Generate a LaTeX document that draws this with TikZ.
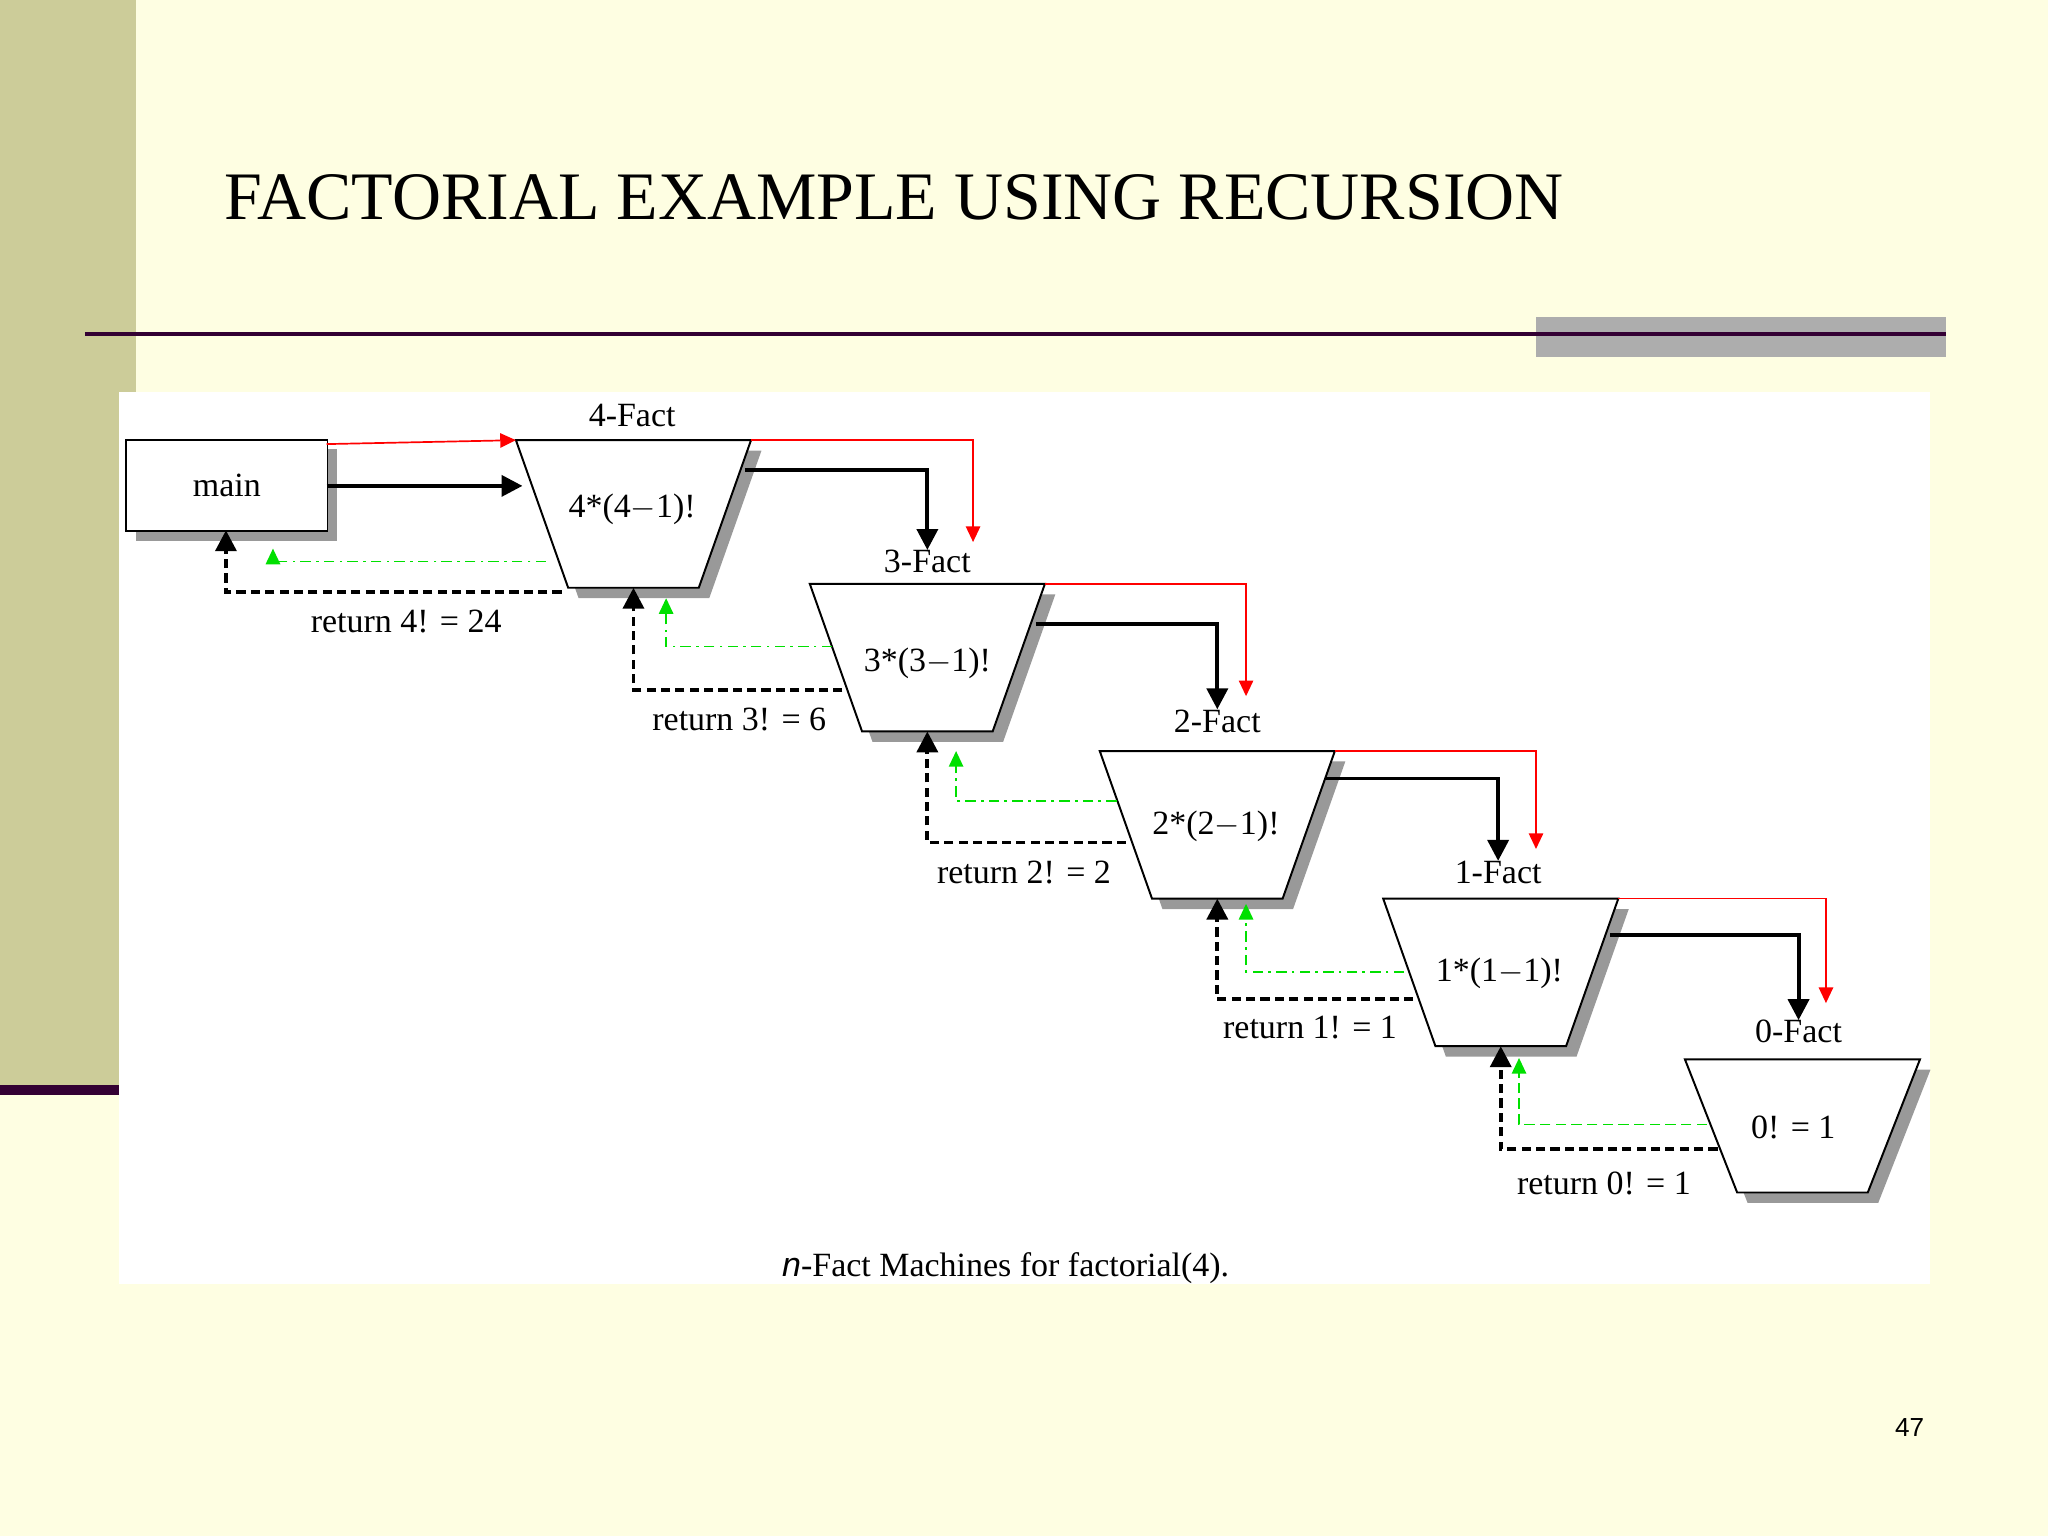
\documentclass[tikz,border=0pt]{standalone}
\usepackage{fontspec}
\setmainfont{Liberation Serif}
\newfontfamily\sans{Liberation Sans}
\usetikzlibrary{arrows.meta}
\definecolor{bgc}{HTML}{FEFEE2}
\definecolor{olive}{HTML}{CCCC99}
\definecolor{dpur}{HTML}{330033}
\definecolor{shd}{HTML}{999999}
\definecolor{gr}{HTML}{00E000}
\newcommand{\trapz}[4]{% name, x, y (top-left), height
  \fill[shd] (#2+8,#3+8) -- (#2+188,#3+8) -- (#2+148,#3+#4+8) -- (#2+48,#3+#4+8) -- cycle;
  \draw[line width=1.5pt,fill=white] (#2,#3) -- (#2+180,#3) -- (#2+140,#3+#4) -- (#2+40,#3+#4) -- cycle;
  \coordinate (#1tl) at (#2,#3);
  \coordinate (#1tr) at (#2+180,#3);
  \coordinate (#1b) at (#2+90,#3+#4);
}
\tikzset{
  lbl/.style={font=\fontsize{26}{30}\selectfont, inner sep=0pt},
  red/.style={draw=red, line width=1.3pt, -{Triangle[length=12pt,width=11pt]}},
  blk/.style={draw=black, line width=3pt, -{Triangle[length=16pt,width=16pt]}},
  ret/.style={draw=black, line width=3pt, dash pattern=on 7pt off 4pt, -{Triangle[length=16pt,width=16pt]}},
  grn/.style={draw=gr, line width=1.3pt, dash pattern=on 8pt off 4pt on 2pt off 4pt, -{Triangle[length=12pt,width=11pt]}},
}
\begin{document}
\begin{tikzpicture}[x=1pt,y=-1pt]
\useasboundingbox (0,0) rectangle (1568,1176);
\fill[bgc] (0,0) rectangle (1568,1176);
\fill[olive] (0,0) rectangle (104,832);
\fill[dpur] (0,831) rectangle (91,838);
\node[anchor=base west, inner sep=0pt, font=\fontsize{52}{56}\selectfont] (title) at (172,168) {FACTORIAL EXAMPLE USING RECURSION};
\fill[shd!80] (1176,243) rectangle (1490,273);
\draw[dpur, line width=3pt] (65,256) -- (1490,256);
\fill[white] (91,300) rectangle (1478,983);
% main
\fill[shd] (104,344) rectangle (258,414);
\node[draw, line width=1.5pt, fill=white, minimum width=154pt, minimum height=70pt, anchor=north west, inner sep=0pt, lbl] (main) at (96,336) {main};
% trapezoids
\trapz{f4}{395}{337}{113}
\trapz{f3}{620}{447}{113}
\trapz{f2}{842}{575}{113}
\trapz{f1}{1059}{688}{113}
\trapz{f0}{1290}{811}{102}
% labels
\node[lbl] (l4) at (484,318) {4-Fact};
\node[lbl] (l3) at (710,430) {3-Fact};
\node[lbl] (l2) at (932,552) {2-Fact};
\node[lbl] (l1) at (1147,668) {1-Fact};
\node[lbl] (l0) at (1377,790) {0-Fact};
\node[lbl] (t4) at (484,390) {4*(4$-$1)!};
\node[lbl] (t3) at (710,508) {3*(3$-$1)!};
\node[lbl] (t2) at (931,633) {2*(2$-$1)!};
\node[lbl] (t1) at (1148,745) {1*(1$-$1)!};
\node[lbl] (t0) at (1373,863) {0! = 1};
\node[lbl] (r4) at (311,476) {return 4! = 24};
\node[lbl] (r3) at (566,551) {return 3! = 6};
\node[lbl] (r2) at (784,668) {return 2! = 2};
\node[lbl] (r1) at (1003,787) {return 1! = 1};
\node[lbl] (r0) at (1228,906) {return 0! = 1};
% coordinates
\coordinate (m1) at (250,340); \coordinate (m2) at (250,372);
\coordinate (a4) at (400,372);
\coordinate (mb) at (173,406);
% red
\draw[red] (m1) -- (f4tl);
\draw[red] (f4tr) -| (745,415);
\draw[red] (f3tr) -| (954,533);
\draw[red] (f2tr) -| (1176,650);
\draw[red] (f1tr) -| (1398,768);
% black
\draw[blk] (m2) -- (a4);
\draw[blk] (570,360) -| (l3.north);
\draw[blk] (793,478) -| (l2.north);
\draw[blk] (1015,596) -| (l1.north);
\draw[blk] (1233,716) -| (l0.north);
% return
\draw[ret] (430,453) -| (mb);
\draw[ret] (645,528) -| (f4b);
\draw[ret] (862,645) -| (f3b);
\draw[ret] (1082,765) -| (f2b);
\draw[ret] (1315,880) -| (f1b);
% green
\draw[grn] (418,430) -| (209,420);
\draw[grn] (637,495) -| (510,458);
\draw[grn] (855,613) -| (732,575);
\draw[grn] (1075,744) -| (954,692);
\draw[grn, dash pattern=on 8pt off 4pt] (1307,861) -| (1163,810);
% caption
\node[lbl, anchor=base] (cap) at (770,977) {{\sans\itshape n}-Fact Machines for factorial(4).};
\node[font=\sans\fontsize{20}{24}\selectfont, inner sep=0pt] (pg) at (1462,1093) {47};
\end{tikzpicture}
\end{document}
